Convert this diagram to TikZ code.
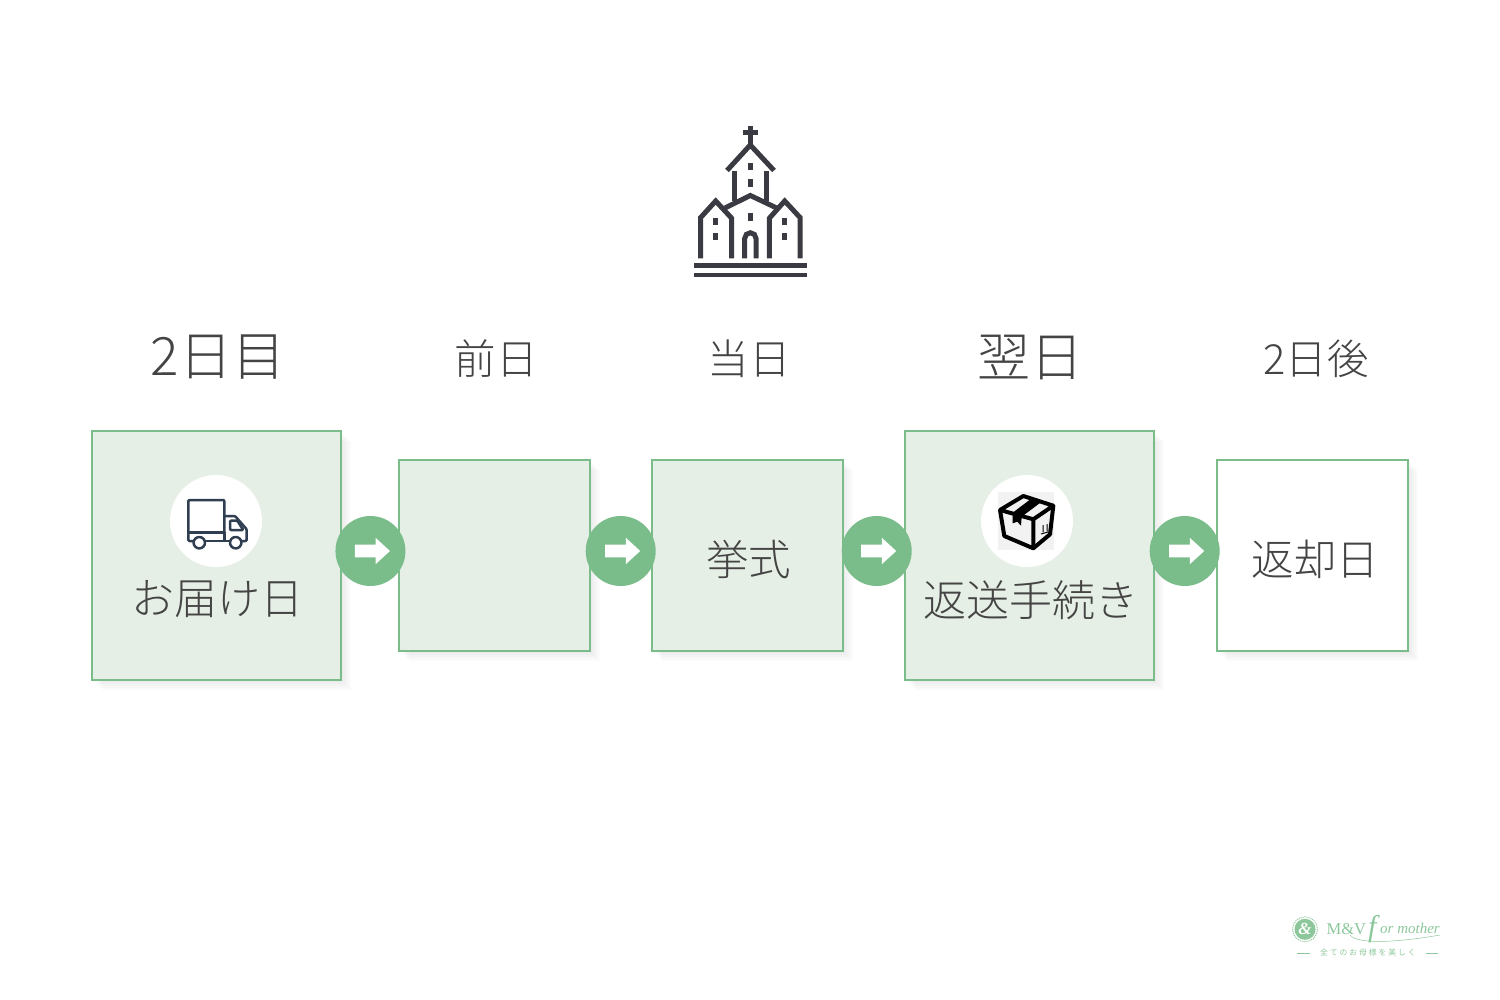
\documentclass[tikz,border=0pt]{standalone}
\usepackage{fontspec}
\setmainfont{Liberation Serif}
\newfontfamily\cjk[UprightFont=* Light]{Noto Sans CJK JP}
\newfontfamily\cjktag[LetterSpace=25]{Noto Sans CJK JP}
\usetikzlibrary{arrows.meta, positioning, shadows, shapes.arrows}
\definecolor{mvgreen}{HTML}{7ABD8A}
\definecolor{mvpale}{HTML}{E6EFE6}
\definecolor{mvtext}{HTML}{444444}
\definecolor{mvlogo}{HTML}{8CC79B}
\definecolor{churchgrey}{HTML}{3A3B42}
\definecolor{truckblue}{HTML}{2F3E50}
\tikzset{
    softshadow/.style = {
      drop shadow={shadow xshift=2pt, shadow yshift=-2pt, opacity=.016, fill=black},
      drop shadow={shadow xshift=4pt, shadow yshift=-4pt, opacity=.016, fill=black},
      drop shadow={shadow xshift=6pt, shadow yshift=-6pt, opacity=.016, fill=black},
      drop shadow={shadow xshift=8pt, shadow yshift=-8pt, opacity=.016, fill=black},
      drop shadow={shadow xshift=10pt, shadow yshift=-10pt, opacity=.016, fill=black},
    },
    daybox/.style = {
      draw=mvgreen, line width=2pt, fill=mvpale, inner sep=0, softshadow,
      minimum size=191pt, text=mvtext, font=\cjk\fontsize{42.5}{42.5}\selectfont,
      text height=47pt, text depth=8pt,
    },
    bigbox/.style = {daybox, minimum size=248.5pt},
    whitebox/.style = {daybox, fill=white},
    daylabel/.style = {text=mvtext, inner sep=0, font=\cjk\fontsize{41.5}{41.5}\selectfont},
    biglabel/.style = {text=mvtext, inner sep=0, font=\cjk\fontsize{53}{53}\selectfont},
    boxlabel/.style = {text=mvtext, inner sep=0, font=\cjk\fontsize{43}{43}\selectfont},
    badge/.style = {fill=mvgreen, circle, minimum size=70pt, inner sep=0},
    badge arrow/.style = {
      fill=white, single arrow, minimum height=35pt, inner sep=0,
      text height=12.5pt, text depth=0pt, text width=1pt,
      single arrow head extend=6.75pt, single arrow tip angle=85,
    },
    icon disc/.style = {fill=white, circle, minimum size=92pt, inner sep=0},
    church line/.style = {churchgrey, line width=5pt, line join=miter},
    church window/.style = {fill=churchgrey},
    truck line/.style = {truckblue, line width=2.5pt, line join=round, rounded corners=1pt},
    parcel line/.style = {black, line width=4pt, line join=round},
    logo text/.style = {text=mvlogo, inner sep=0},
}
\newcommand{\drawchurch}{%
  %% Cross and the roof of the tower
  \draw [church line] (750.3,126) -- (750.3,145);
  \draw [church line] (743,132.7) -- (758,132.7);
  \draw [church line] (727,170.5) -- (750.3,145) -- (774,170.5);
  \draw [church line] (734.3,171.5) -- (734.3,201.5);
  \draw [church line] (766.3,171.5) -- (766.3,201.5);
  %% The three roofs and the walls
  \draw [church line] (725,208) -- (750.3,195.5) -- (776.7,208);
  \draw [church line] (700.7,258.3) -- (700.7,217.5) -- (715.7,201) -- (731.7,218.3) -- (731.7,258.3);
  \draw [church line] (769.3,258.3) -- (769.3,218.3) -- (784.7,201) -- (800,217.5) -- (800,258.3);
  %% Door
  \draw [church line] (744.7,258.3) -- (744.7,238.4) arc [start angle=180, end angle=360, radius=5.65] -- (756,258.3);
  %% Windows
  \foreach \x/\y in {748/163, 748/179.3, 748/213.3, 713.3/217.7, 713.3/232.7, 782.3/217.7, 782.3/232.7}{%
    \fill [church window] (\x,\y) rectangle ++(5,7.5);
  }
  %% The steps
  \fill [church window] (694.3,263.3) rectangle (806.7,268);
  \fill [church window] (694.3,272.7) rectangle (806.7,277.3);
}
\newcommand{\drawtruck}{%
  \draw [truck line] (224.3,532.3) -- (224.3,500) -- (188.3,500) -- (188.3,541) -- (193,541);
  \draw [truck line] (188.3,532.3) -- (224.3,532.3);
  \draw [truck line] (224.3,516) -- (235,516) -- (246.7,529.3) -- (246.7,541) -- (242,541);
  \draw [truck line] (230,530) -- (230,520.7) -- (237.3,520.7) -- (243.3,530) -- cycle;
  \draw [truck line] (206,541) -- (229,541);
  \draw [truck line] (224.3,532.3) -- (224.3,541);
  \draw [truck line] (199.3,542.7) circle [radius=5.7];
  \draw [truck line] (235.7,542.7) circle [radius=5.7];
}
\newcommand{\drawparcel}{%
  \fill [white!95!black] (997.7,492.3) rectangle (1054.3,550);
  \draw [parcel line] (1023.3,496) -- (1053.3,505.7) -- (1033.3,519.3) -- (1000,510) -- cycle;
  \draw [parcel line] (1000,510) -- (1004.3,536) -- (1033.3,548.3) -- (1033.3,519.3);
  \draw [parcel line] (1033.3,548.3) -- (1050,534.3) -- (1053.3,505.7);
  %% The tape
  \fill [black] (1031.7,498.3) -- (1041.7,501.7) -- (1021.7,516.7) -- (1021,525.7)
    -- (1017.3,521.7) -- (1012.7,523.3) -- (1012.7,512.7) -- cycle;
  %% Mark on the side
  \draw [black, line width=1pt] (1043,525) -- (1043,532) (1047,524) -- (1047,531) (1041,534) -- (1048,532);
}
\newcommand{\drawlogo}{%
  \node [fill=mvlogo, circle, minimum size=21pt, inner sep=0] (logo_disc) at (1305,929.3)
    {\textcolor{white}{\fontsize{17}{17}\selectfont\itshape\bfseries\&}};
  \draw [mvlogo, line width=1pt, densely dotted] (logo_disc) circle [radius=12.5];
  \node [logo text, font=\fontsize{16.5}{16.5}\selectfont, anchor=base west] (logo_mv) at (1326.5,934) {M\&V};
  \node [logo text, font=\fontsize{30}{30}\selectfont\itshape, anchor=base west] (logo_f) at (1368,936) {f};
  \node [logo text, font=\fontsize{15}{15}\selectfont\itshape, anchor=base west] (logo_mother) at (1380,933.5) {or mother};
  \draw [mvlogo, line width=.5pt] (1350,935) .. controls (1358,945) and (1400,942) .. (1440,935);
  \node [logo text, font=\cjktag\fontsize{7.8}{7.8}\selectfont] (logo_tag) at (1368,952.7) {全てのお母様を美しく};
  \draw [mvlogo, line width=.7pt] (1297,953) -- (1310,953);
  \draw [mvlogo, line width=.7pt] (1426,953) -- (1438,953);
}

\begin{document}
\begin{tikzpicture}[x=1pt, y=-1pt]
    \useasboundingbox (0,0) rectangle (1500,1000);

    %% The row of boxes
    \node [bigbox] (delivery) at (216.5,555.5) {};
    \node [daybox, right=55.75pt of delivery] (eve) {};
    \node [daybox, right=60pt of eve] (ceremony) {\hspace{3pt}挙式};
    \node [bigbox, right=60.5pt of ceremony] (returnship) {};
    \node [whitebox, right=61.5pt of returnship] (returnday) {\hspace{6pt}返却日};

    %% Day labels above the boxes
    \node [biglabel] (day_delivery) at (218,357) {2日目};
    \node [daylabel] (day_eve) at (496,359) {前日};
    \node [daylabel] (day_ceremony) at (749,359) {当日};
    \node [biglabel] (day_returnship) at (1030,357) {翌日};
    \node [daylabel] (day_returnday) at (1316,359) {2日後};

    %% Icons on their discs
    \node [icon disc] (truck_disc) at (216,521) {};
    \node [icon disc] (parcel_disc) at (1027,521) {};
    \drawtruck
    \drawparcel
    \node [boxlabel, below=13pt of truck_disc, xshift=1pt] (delivery_text) {お届け日};
    \node [boxlabel, below=13pt of parcel_disc, xshift=3.5pt] (returnship_text) {返送手続き};

    %% The arrows between the boxes
    \foreach \from/\gap/\name in {delivery/-6.5/a, eve/-5/b, ceremony/-2/c, returnship/-5/d}{%
      \node [badge, right=\gap pt of \from, yshift=4.5pt] (badge_\name) {};
      \node [badge arrow, xshift=-1.5pt] (arrow_\name) at (badge_\name) {};
    }

    \drawchurch
    \drawlogo
\end{tikzpicture}
\end{document}
